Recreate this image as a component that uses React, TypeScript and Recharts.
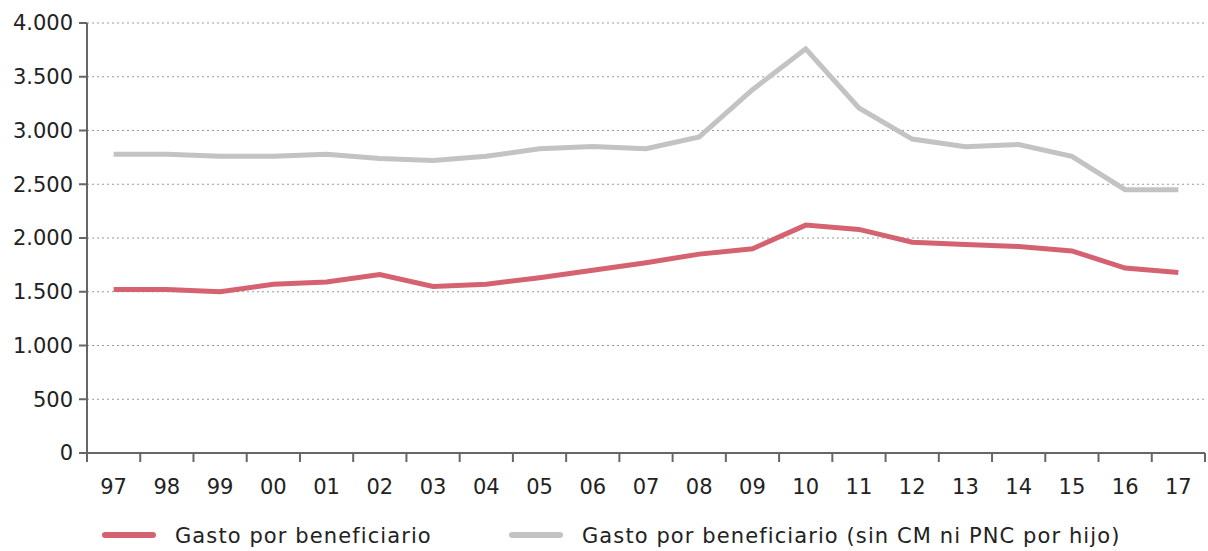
import { LineChart, Line, XAxis, YAxis, CartesianGrid, Legend } from 'recharts'

const years = ['97', '98', '99', '00', '01', '02', '03', '04', '05', '06', '07', '08', '09', '10', '11', '12', '13', '14', '15', '16', '17']
const gastoBenef = [1520, 1520, 1500, 1570, 1590, 1660, 1550, 1570, 1630, 1700, 1770, 1850, 1900, 2120, 2080, 1960, 1940, 1920, 1880, 1720, 1680]
const gastoSinCM = [2780, 2780, 2760, 2760, 2780, 2740, 2720, 2760, 2830, 2850, 2830, 2940, 3380, 3760, 3210, 2920, 2850, 2870, 2760, 2450, 2450]
const yTicks = [0, 500, 1000, 1500, 2000, 2500, 3000, 3500, 4000]

const seriesNames = ['Gasto por beneficiario', 'Gasto por beneficiario (sin CM ni PNC por hijo)']
const colors = ['#d56270', '#c3c3c3']

const data = years.map((y, i) => ({ year: y, a: gastoBenef[i], b: gastoSinCM[i] }))

const W = 1208
const H = 551
const LEFT = 87
const RIGHT = 3
const FONT = '"DejaVu Sans", sans-serif'
const band = (W - LEFT - RIGHT) / years.length

const fmt = (v: number) => v.toLocaleString('de-DE')

function XTick(props: any) {
  const { x, y, payload, index } = props
  const left = x - band / 2
  return (
    <g>
      <line x1={left} x2={left} y1={y - 8} y2={y + 1} stroke="#666" strokeWidth={2} />
      {index === years.length - 1 && (
        <line x1={left + band} x2={left + band} y1={y - 8} y2={y + 1} stroke="#666" strokeWidth={2} />
      )}
      <text x={x} y={y + 33} textAnchor="middle" fontSize={21} fontFamily={FONT} fill="#222">
        {payload.value}
      </text>
    </g>
  )
}

function LegendBox() {
  const items = [
    { x: 105, tx: 175 },
    { x: 512, tx: 582 },
  ]
  return (
    <svg width={W} height={58} style={{ display: 'block' }}>
      {items.map((it, i) => (
        <g key={i}>
          <line x1={it.x} x2={it.x + 48} y1={42} y2={42} stroke={colors[i]} strokeWidth={6} strokeLinecap="round" />
          <text x={it.tx} y={50} fontSize={21} letterSpacing={1.1} fontFamily={FONT} fill="#222">
            {seriesNames[i]}
          </text>
        </g>
      ))}
    </svg>
  )
}

export default function App() {
  return (
    <div style={{ position: 'absolute', left: 0, top: 0, background: '#fff' }}>
      <LineChart width={W} height={H} data={data} margin={{ top: 23, right: RIGHT, left: 0, bottom: 0 }}>
        <CartesianGrid vertical={false} stroke="#999" strokeDasharray="2 3" />
        <XAxis
          dataKey="year"
          height={40}
          tick={<XTick />}
          tickLine={false}
          interval={0}
          padding={{ left: band / 2, right: band / 2 }}
          axisLine={{ stroke: '#666', strokeWidth: 2 }}
        />
        <YAxis
          width={LEFT}
          domain={[0, 4000]}
          ticks={yTicks}
          tickFormatter={fmt}
          tickSize={8}
          tickMargin={6}
          tick={{ fontSize: 21, fontFamily: FONT, fill: '#222' }}
          tickLine={{ stroke: '#666', strokeWidth: 2 }}
          axisLine={{ stroke: '#666', strokeWidth: 2 }}
        />
        <Legend verticalAlign="bottom" height={58} content={() => <LegendBox />} wrapperStyle={{ left: 0, width: W }} />
        <Line dataKey="b" name={seriesNames[1]} stroke={colors[1]} strokeWidth={5} dot={false} isAnimationActive={false} />
        <Line dataKey="a" name={seriesNames[0]} stroke={colors[0]} strokeWidth={5} dot={false} isAnimationActive={false} />
      </LineChart>
    </div>
  )
}
